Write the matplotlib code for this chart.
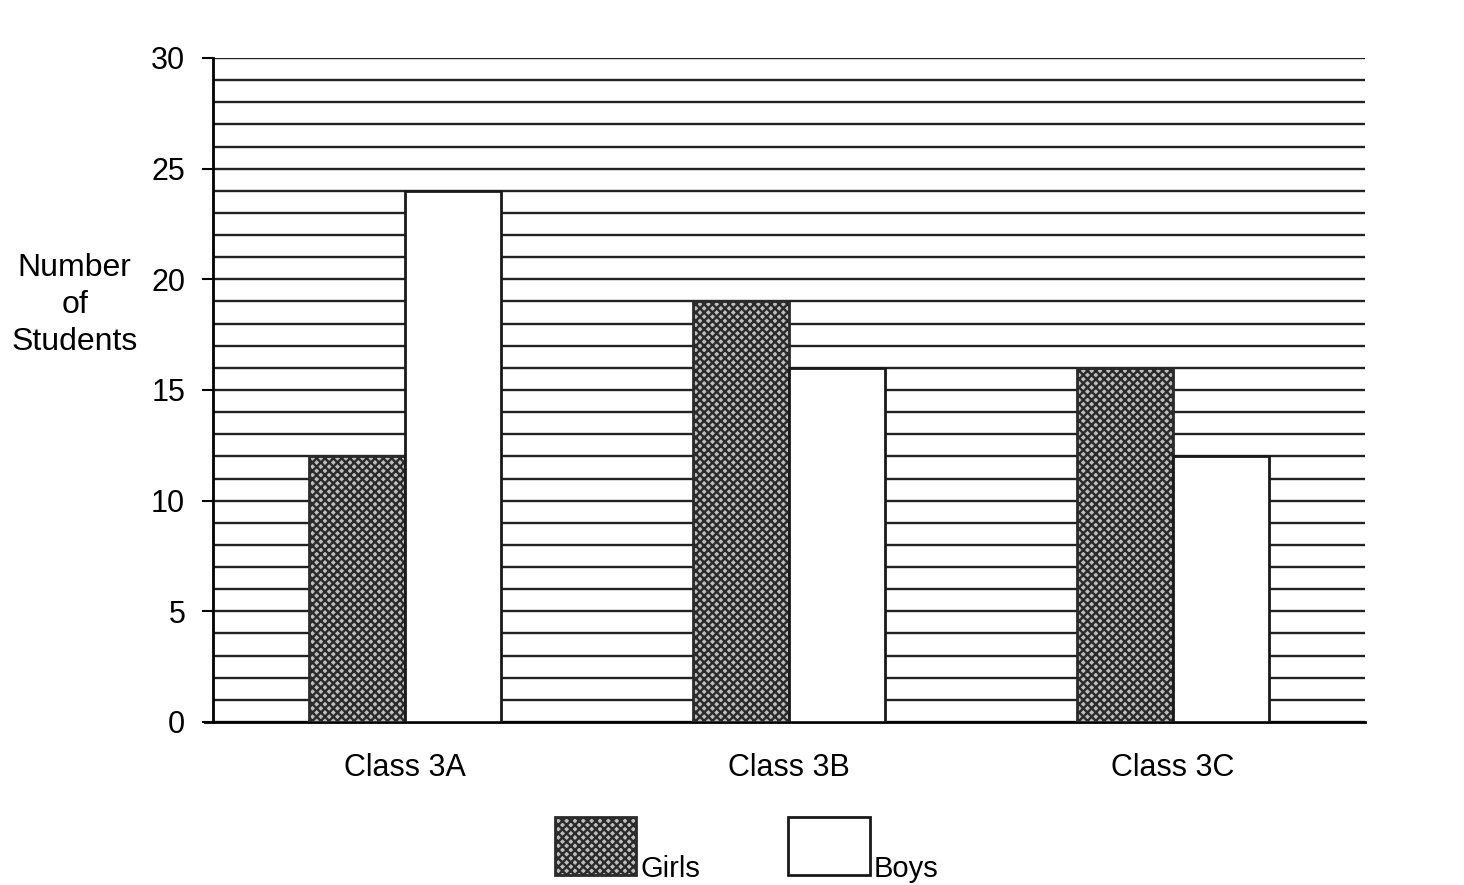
import numpy as np
import matplotlib.pyplot as plt
from matplotlib.ticker import MultipleLocator

plt.rcParams['font.family'] = ['Liberation Sans', 'DejaVu Sans']
plt.rcParams['hatch.linewidth'] = 1.7

# Data
classes = ['Class 3A', 'Class 3B', 'Class 3C']
girls = [12, 19, 16]
boys = [24, 16, 12]

fig = plt.figure(figsize=(14.64, 8.85), dpi=100)
ax = fig.add_axes([0.1455, 0.1842, 0.787, 0.7503])

x = np.arange(len(classes))
w = 0.25
ax.bar(x - w / 2, girls, w, color='#bdbdbd', edgecolor='#2a2a2a',
       hatch='xxxx', linewidth=2, label='Girls', zorder=3)
ax.bar(x + w / 2, boys, w, color='white', edgecolor='#1a1a1a',
       linewidth=2, label='Boys', zorder=3)

ax.set_xlim(-0.5, 2.5)
ax.set_ylim(0, 30)
ax.set_xticks(x)
ax.set_xticklabels(classes, fontsize=22)
ax.tick_params(axis='x', length=0, pad=22)
ax.set_yticks(range(0, 31, 5))
ax.yaxis.set_minor_locator(MultipleLocator(1))
ax.tick_params(axis='y', which='major', length=8, width=1.5, pad=12,
               labelsize=22, direction='out')
ax.tick_params(axis='y', which='minor', length=0)

ax.grid(True, axis='y', which='both', color='#222222', linewidth=1.7)
ax.set_axisbelow(True)

for s in ['top', 'right']:
    ax.spines[s].set_visible(False)
ax.spines['left'].set_linewidth(2)
ax.spines['bottom'].set_linewidth(2)
ax.spines['bottom'].set_bounds(-0.52, 2.5)

ax.set_ylabel('Number\nof\nStudents', rotation=0, fontsize=23,
              ha='center', va='center', linespacing=1.3)
ax.yaxis.set_label_coords(-0.12, 0.628)

leg = fig.legend(loc='center', bbox_to_anchor=(0.51, 0.044), ncol=2,
                 frameon=False, fontsize=21, handlelength=2.8,
                 handleheight=2.7, handletextpad=0.15, columnspacing=3.0)
for t in leg.get_texts():
    t.set_va('top')

fig.savefig('out.png', dpi=100)
